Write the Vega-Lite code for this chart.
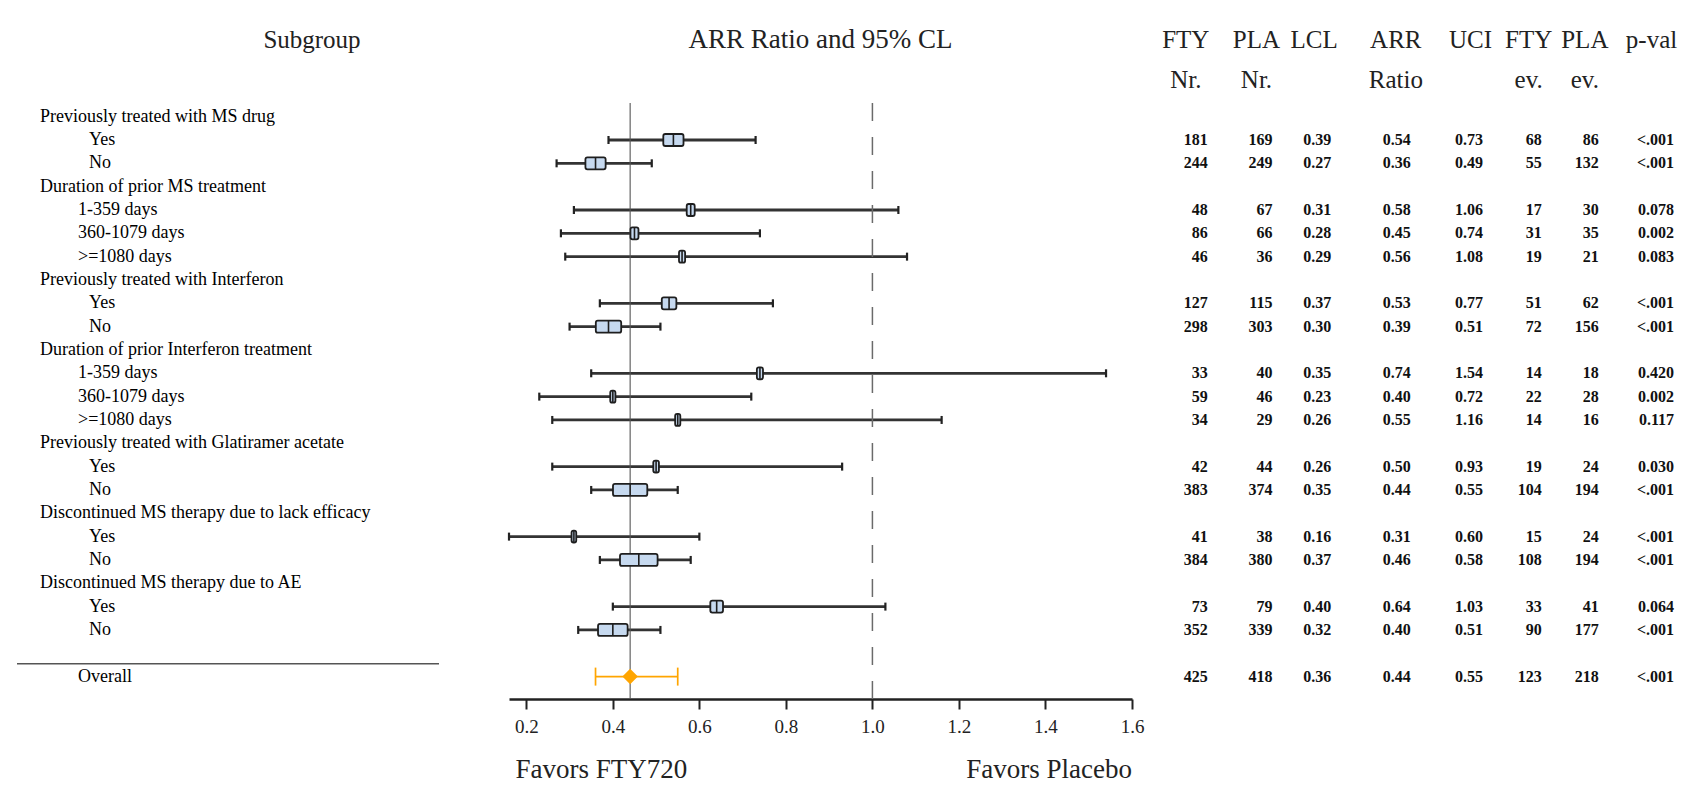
{
  "$schema": "https://vega.github.io/schema/vega-lite/v6.json",
  "padding": {"left": 16, "top": 0, "right": 0, "bottom": 0},
  "autosize": {"type": "pad"},
  "background": "white",
  "spacing": 70,
  "bounds": "flush",
  "resolve": {"scale": {"x": "independent"}, "axis": {"x": "independent"}},
  "config": {"view": {"stroke": null}, "font": "Liberation Serif", "text": {"font": "Liberation Serif"}},
  "datasets": {
    "rows": [
      {"row": 1, "label": "Previously treated with MS drug", "level": "group"},
      {"row": 2, "label": "Yes", "level": "item", "fty_n": 181, "pla_n": 169, "lcl": 0.39, "arr": 0.54, "ucl": 0.73, "fty_ev": 68, "pla_ev": 86, "pval": "<.001", "weight": 43},
      {"row": 3, "label": "No", "level": "item", "fty_n": 244, "pla_n": 249, "lcl": 0.27, "arr": 0.36, "ucl": 0.49, "fty_ev": 55, "pla_ev": 132, "pval": "<.001", "weight": 43},
      {"row": 4, "label": "Duration of prior MS treatment", "level": "group"},
      {"row": 5, "label": "1-359 days", "level": "item", "fty_n": 48, "pla_n": 67, "lcl": 0.31, "arr": 0.58, "ucl": 1.06, "fty_ev": 17, "pla_ev": 30, "pval": "0.078", "weight": 17},
      {"row": 6, "label": "360-1079 days", "level": "item", "fty_n": 86, "pla_n": 66, "lcl": 0.28, "arr": 0.45, "ucl": 0.74, "fty_ev": 31, "pla_ev": 35, "pval": "0.002", "weight": 17},
      {"row": 7, "label": ">=1080 days", "level": "item", "fty_n": 46, "pla_n": 36, "lcl": 0.29, "arr": 0.56, "ucl": 1.08, "fty_ev": 19, "pla_ev": 21, "pval": "0.083", "weight": 13},
      {"row": 8, "label": "Previously treated with Interferon", "level": "group"},
      {"row": 9, "label": "Yes", "level": "item", "fty_n": 127, "pla_n": 115, "lcl": 0.37, "arr": 0.53, "ucl": 0.77, "fty_ev": 51, "pla_ev": 62, "pval": "<.001", "weight": 31},
      {"row": 10, "label": "No", "level": "item", "fty_n": 298, "pla_n": 303, "lcl": 0.30, "arr": 0.39, "ucl": 0.51, "fty_ev": 72, "pla_ev": 156, "pval": "<.001", "weight": 54},
      {"row": 11, "label": "Duration of prior Interferon treatment", "level": "group"},
      {"row": 12, "label": "1-359 days", "level": "item", "fty_n": 33, "pla_n": 40, "lcl": 0.35, "arr": 0.74, "ucl": 1.54, "fty_ev": 14, "pla_ev": 18, "pval": "0.420", "weight": 13},
      {"row": 13, "label": "360-1079 days", "level": "item", "fty_n": 59, "pla_n": 46, "lcl": 0.23, "arr": 0.40, "ucl": 0.72, "fty_ev": 22, "pla_ev": 28, "pval": "0.002", "weight": 11},
      {"row": 14, "label": ">=1080 days", "level": "item", "fty_n": 34, "pla_n": 29, "lcl": 0.26, "arr": 0.55, "ucl": 1.16, "fty_ev": 14, "pla_ev": 16, "pval": "0.117", "weight": 11},
      {"row": 15, "label": "Previously treated with Glatiramer acetate", "level": "group"},
      {"row": 16, "label": "Yes", "level": "item", "fty_n": 42, "pla_n": 44, "lcl": 0.26, "arr": 0.50, "ucl": 0.93, "fty_ev": 19, "pla_ev": 24, "pval": "0.030", "weight": 12},
      {"row": 17, "label": "No", "level": "item", "fty_n": 383, "pla_n": 374, "lcl": 0.35, "arr": 0.44, "ucl": 0.55, "fty_ev": 104, "pla_ev": 194, "pval": "<.001", "weight": 73},
      {"row": 18, "label": "Discontinued MS therapy due to lack efficacy", "level": "group"},
      {"row": 19, "label": "Yes", "level": "item", "fty_n": 41, "pla_n": 38, "lcl": 0.16, "arr": 0.31, "ucl": 0.60, "fty_ev": 15, "pla_ev": 24, "pval": "<.001", "weight": 10},
      {"row": 20, "label": "No", "level": "item", "fty_n": 384, "pla_n": 380, "lcl": 0.37, "arr": 0.46, "ucl": 0.58, "fty_ev": 108, "pla_ev": 194, "pval": "<.001", "weight": 80},
      {"row": 21, "label": "Discontinued MS therapy due to AE", "level": "group"},
      {"row": 22, "label": "Yes", "level": "item", "fty_n": 73, "pla_n": 79, "lcl": 0.40, "arr": 0.64, "ucl": 1.03, "fty_ev": 33, "pla_ev": 41, "pval": "0.064", "weight": 27},
      {"row": 23, "label": "No", "level": "item", "fty_n": 352, "pla_n": 339, "lcl": 0.32, "arr": 0.40, "ucl": 0.51, "fty_ev": 90, "pla_ev": 177, "pval": "<.001", "weight": 63},
      {"row": 25, "label": "Overall", "level": "item", "fty_n": 425, "pla_n": 418, "lcl": 0.36, "arr": 0.44, "ucl": 0.55, "fty_ev": 123, "pla_ev": 218, "pval": "<.001"}
    ],
    "cols": [
      {"col": "fty_n", "head": ["FTY", "Nr."]},
      {"col": "pla_n", "head": ["PLA", "Nr."]},
      {"col": "lcl", "head": ["LCL", ""]},
      {"col": "arr", "head": ["ARR", "Ratio"]},
      {"col": "ucl", "head": ["UCI", ""]},
      {"col": "fty_ev", "head": ["FTY", "ev."]},
      {"col": "pla_ev", "head": ["PLA", "ev."]},
      {"col": "pval", "head": ["p-val", ""]}
    ]
  },
  "hconcat": [
    {
      "width": 422,
      "height": 699,
      "layer": [
        {
          "data": {"name": "rows"},
          "transform": [{"filter": "!test(/days|Overall/, datum.label)"}],
          "mark": {"type": "text", "align": "left", "baseline": "middle", "fontSize": 18, "color": "#000"},
          "encoding": {
            "x": {"field": "level", "type": "nominal", "scale": {"domain": ["group", "item"], "range": [23, 72], "padding": 0}, "axis": null},
            "y": {"field": "row", "type": "quantitative", "scale": {"domain": [-4, 25.96], "reverse": true, "nice": false, "zero": false}, "axis": null},
            "text": {"field": "label"}
          }
        },
        {
          "data": {"name": "rows"},
          "transform": [{"filter": "test(/days|Overall/, datum.label)"}],
          "mark": {"type": "text", "align": "left", "baseline": "middle", "fontSize": 18, "color": "#000", "dx": -11},
          "encoding": {
            "x": {"field": "level", "type": "nominal", "axis": null},
            "y": {"field": "row", "type": "quantitative"},
            "text": {"field": "label"}
          }
        },
        {
          "data": {"values": [{"header": "Subgroup"}]},
          "mark": {"type": "text", "fontSize": 25, "dx": 84, "baseline": "middle", "color": "#222"},
          "encoding": {
            "y": {"datum": -2.3, "type": "quantitative"},
            "text": {"field": "header"}
          }
        },
        {
          "data": {"values": [{"at": 24.45}]},
          "mark": {"type": "rule", "color": "#555", "strokeWidth": 1.5},
          "encoding": {"y": {"field": "at", "type": "quantitative"}}
        }
      ]
    },
    {
      "width": 623,
      "height": 699,
      "encoding": {
        "x": {"type": "quantitative", "scale": {"domain": [0.16, 1.6], "nice": false, "zero": false},
          "axis": {"values": [0.2, 0.4, 0.6, 0.8, 1.0, 1.2, 1.4, 1.6], "format": ".1f", "title": null, "grid": false, "domainColor": "#222", "domainWidth": 2.5, "tickColor": "#222", "tickWidth": 2, "tickSize": 10, "labelFont": "Liberation Serif", "labelFontSize": 19, "labelColor": "#222", "labelPadding": 8, "labelFlush": false, "labelOverlap": false}},
        "y": {"type": "quantitative", "scale": {"domain": [-4, 25.96], "reverse": true, "nice": false, "zero": false}, "axis": null}
      },
      "layer": [
        {
          "data": {"name": "rows"},
          "transform": [{"filter": "isValid(datum.weight)"}],
          "mark": {"type": "rule", "color": "#333", "strokeWidth": 2.8},
          "encoding": {
            "x": {"field": "lcl"},
            "x2": {"field": "ucl"},
            "y": {"field": "row"}
          }
        },
        {
          "data": {"values": [{"ref": 0.44, "top": 0.41, "bottom": 25.96}]},
          "mark": {"type": "rule", "color": "#555", "strokeWidth": 1.1},
          "encoding": {
            "x": {"field": "ref"},
            "y": {"field": "top"},
            "y2": {"field": "bottom"}
          }
        },
        {
          "data": {"values": [{"ref": 1.0, "top": 0.41, "bottom": 25.96}]},
          "mark": {"type": "rule", "color": "#6a6a6a", "strokeWidth": 1.5, "strokeDash": [18, 16]},
          "encoding": {
            "x": {"field": "ref"},
            "y": {"field": "top"},
            "y2": {"field": "bottom"}
          }
        },
        {
          "data": {"name": "rows"},
          "transform": [{"filter": "isValid(datum.weight)"}],
          "mark": {"type": "tick", "orient": "vertical", "color": "#222", "size": 8, "thickness": 2.2, "opacity": 1},
          "encoding": {"x": {"field": "lcl"}, "y": {"field": "row"}}
        },
        {
          "data": {"name": "rows"},
          "transform": [{"filter": "isValid(datum.weight)"}],
          "mark": {"type": "tick", "orient": "vertical", "color": "#222", "size": 8, "thickness": 2.2, "opacity": 1},
          "encoding": {"x": {"field": "ucl"}, "y": {"field": "row"}}
        },
        {
          "data": {"name": "rows"},
          "transform": [{"filter": "isValid(datum.weight)"}],
          "mark": {"type": "tick", "orient": "horizontal", "thickness": 12, "fill": "#c6d9ef", "stroke": "#1e1e1e", "strokeWidth": 1.8, "opacity": 1, "cornerRadius": 2},
          "encoding": {
            "x": {"field": "arr"},
            "y": {"field": "row"},
            "size": {"field": "weight", "type": "quantitative", "scale": {"domain": [0, 100], "range": [0, 47]}, "legend": null}
          }
        },
        {
          "data": {"name": "rows"},
          "transform": [{"filter": "isValid(datum.weight)"}],
          "mark": {"type": "tick", "orient": "vertical", "color": "#1e1e1e", "size": 12, "thickness": 1.6, "opacity": 1},
          "encoding": {"x": {"field": "arr"}, "y": {"field": "row"}}
        },
        {
          "data": {"name": "rows"},
          "transform": [{"filter": "datum.label === 'Overall'"}],
          "mark": {"type": "rule", "color": "#ffa500", "strokeWidth": 1.7},
          "encoding": {"x": {"field": "lcl"}, "x2": {"field": "ucl"}, "y": {"field": "row"}}
        },
        {
          "data": {"name": "rows"},
          "transform": [{"filter": "datum.label === 'Overall'"}],
          "mark": {"type": "tick", "orient": "vertical", "color": "#ffa500", "size": 18, "thickness": 1.7, "opacity": 1},
          "encoding": {"x": {"field": "lcl"}, "y": {"field": "row"}}
        },
        {
          "data": {"name": "rows"},
          "transform": [{"filter": "datum.label === 'Overall'"}],
          "mark": {"type": "tick", "orient": "vertical", "color": "#ffa500", "size": 18, "thickness": 1.7, "opacity": 1},
          "encoding": {"x": {"field": "ucl"}, "y": {"field": "row"}}
        },
        {
          "data": {"name": "rows"},
          "transform": [{"filter": "datum.label === 'Overall'"}],
          "mark": {"type": "point", "shape": "diamond", "filled": true, "color": "#ffa500", "size": 240, "opacity": 1},
          "encoding": {"x": {"field": "arr"}, "y": {"field": "row"}}
        },
        {
          "data": {"values": [{"header": "ARR Ratio and 95% CL", "at": 0.88, "row": -2.3}]},
          "mark": {"type": "text", "fontSize": 27, "baseline": "middle", "color": "#222"},
          "encoding": {"x": {"field": "at"}, "y": {"field": "row"}, "text": {"field": "header"}}
        },
        {
          "data": {"values": [{"note": "Favors FTY720", "at": 0.175, "row": 29.0}]},
          "mark": {"type": "text", "fontSize": 27, "align": "left", "baseline": "middle", "color": "#222"},
          "encoding": {"x": {"field": "at"}, "y": {"field": "row"}, "text": {"field": "note"}}
        },
        {
          "data": {"values": [{"note": "Favors Placebo", "at": 1.6, "row": 29.0}]},
          "mark": {"type": "text", "fontSize": 27, "align": "right", "baseline": "middle", "color": "#222"},
          "encoding": {"x": {"field": "at"}, "y": {"field": "row"}, "text": {"field": "note"}}
        }
      ]
    },
    {
      "width": 504,
      "height": 699,
      "layer": [
        {
          "data": {"name": "cols"}, "transform": [{"filter": "datum.col === 'fty_n'"}],
          "mark": {"type": "text", "align": "center", "baseline": "middle", "fontSize": 25, "lineHeight": 40, "dx": -21, "color": "#222"},
          "encoding": {
            "x": {"field": "col", "type": "nominal", "scale": {"domain": ["fty_n", "pla_n", "lcl", "arr", "ucl", "fty_ev", "pla_ev", "pval"], "range": [4.8, 471.5], "padding": 0}, "axis": null},
            "y": {"datum": -2.3, "type": "quantitative", "scale": {"domain": [-4, 25.96], "reverse": true, "nice": false, "zero": false}, "axis": null},
            "text": {"field": "head"}
          }
        },
        {
          "data": {"name": "cols"}, "transform": [{"filter": "datum.col === 'pla_n'"}],
          "mark": {"type": "text", "align": "center", "baseline": "middle", "fontSize": 25, "lineHeight": 40, "dx": -17, "color": "#222"},
          "encoding": {"x": {"field": "col", "type": "nominal", "axis": null}, "y": {"datum": -2.3, "type": "quantitative"}, "text": {"field": "head"}}
        },
        {
          "data": {"name": "cols"}, "transform": [{"filter": "datum.col === 'lcl'"}],
          "mark": {"type": "text", "align": "center", "baseline": "middle", "fontSize": 25, "lineHeight": 40, "dx": -26, "color": "#222"},
          "encoding": {"x": {"field": "col", "type": "nominal", "axis": null}, "y": {"datum": -2.3, "type": "quantitative"}, "text": {"field": "head"}}
        },
        {
          "data": {"name": "cols"}, "transform": [{"filter": "datum.col === 'arr'"}],
          "mark": {"type": "text", "align": "center", "baseline": "middle", "fontSize": 25, "lineHeight": 40, "dx": -11, "color": "#222"},
          "encoding": {"x": {"field": "col", "type": "nominal", "axis": null}, "y": {"datum": -2.3, "type": "quantitative"}, "text": {"field": "head"}}
        },
        {
          "data": {"name": "cols"}, "transform": [{"filter": "datum.col === 'ucl'"}],
          "mark": {"type": "text", "align": "center", "baseline": "middle", "fontSize": 25, "lineHeight": 40, "dx": -3, "color": "#222"},
          "encoding": {"x": {"field": "col", "type": "nominal", "axis": null}, "y": {"datum": -2.3, "type": "quantitative"}, "text": {"field": "head"}}
        },
        {
          "data": {"name": "cols"}, "transform": [{"filter": "datum.col === 'fty_ev'"}],
          "mark": {"type": "text", "align": "center", "baseline": "middle", "fontSize": 25, "lineHeight": 40, "dx": -11.5, "color": "#222"},
          "encoding": {"x": {"field": "col", "type": "nominal", "axis": null}, "y": {"datum": -2.3, "type": "quantitative"}, "text": {"field": "head"}}
        },
        {
          "data": {"name": "cols"}, "transform": [{"filter": "datum.col === 'pla_ev'"}],
          "mark": {"type": "text", "align": "center", "baseline": "middle", "fontSize": 25, "lineHeight": 40, "dx": -22, "color": "#222"},
          "encoding": {"x": {"field": "col", "type": "nominal", "axis": null}, "y": {"datum": -2.3, "type": "quantitative"}, "text": {"field": "head"}}
        },
        {
          "data": {"name": "cols"}, "transform": [{"filter": "datum.col === 'pval'"}],
          "mark": {"type": "text", "align": "center", "baseline": "middle", "fontSize": 25, "lineHeight": 40, "dx": -22, "color": "#222"},
          "encoding": {"x": {"field": "col", "type": "nominal", "axis": null}, "y": {"datum": -2.3, "type": "quantitative"}, "text": {"field": "head"}}
        },
        {
          "data": {"name": "rows"},
          "transform": [{"filter": "isValid(datum.arr)"}],
          "mark": {"type": "text", "align": "right", "baseline": "middle", "fontSize": 16, "fontWeight": "bold", "color": "#111", "dx": 1},
          "encoding": {"x": {"datum": "fty_n", "type": "nominal", "axis": null}, "y": {"field": "row", "type": "quantitative"}, "text": {"field": "fty_n", "type": "quantitative", "format": "d"}}
        },
        {
          "data": {"name": "rows"},
          "transform": [{"filter": "isValid(datum.arr)"}],
          "mark": {"type": "text", "align": "right", "baseline": "middle", "fontSize": 16, "fontWeight": "bold", "color": "#111", "dx": -1},
          "encoding": {"x": {"datum": "pla_n", "type": "nominal", "axis": null}, "y": {"field": "row", "type": "quantitative"}, "text": {"field": "pla_n", "type": "quantitative", "format": "d"}}
        },
        {
          "data": {"name": "rows"},
          "transform": [{"filter": "isValid(datum.arr)"}],
          "mark": {"type": "text", "align": "right", "baseline": "middle", "fontSize": 16, "fontWeight": "bold", "color": "#111", "dx": -9},
          "encoding": {"x": {"datum": "lcl", "type": "nominal", "axis": null}, "y": {"field": "row", "type": "quantitative"}, "text": {"field": "lcl", "type": "quantitative", "format": ".2f"}}
        },
        {
          "data": {"name": "rows"},
          "transform": [{"filter": "isValid(datum.arr)"}],
          "mark": {"type": "text", "align": "right", "baseline": "middle", "fontSize": 16, "fontWeight": "bold", "color": "#111", "dx": 4},
          "encoding": {"x": {"datum": "arr", "type": "nominal", "axis": null}, "y": {"field": "row", "type": "quantitative"}, "text": {"field": "arr", "type": "quantitative", "format": ".2f"}}
        },
        {
          "data": {"name": "rows"},
          "transform": [{"filter": "isValid(datum.arr)"}],
          "mark": {"type": "text", "align": "right", "baseline": "middle", "fontSize": 16, "fontWeight": "bold", "color": "#111", "dx": 9.5},
          "encoding": {"x": {"datum": "ucl", "type": "nominal", "axis": null}, "y": {"field": "row", "type": "quantitative"}, "text": {"field": "ucl", "type": "quantitative", "format": ".2f"}}
        },
        {
          "data": {"name": "rows"},
          "transform": [{"filter": "isValid(datum.arr)"}],
          "mark": {"type": "text", "align": "right", "baseline": "middle", "fontSize": 16, "fontWeight": "bold", "color": "#111", "dx": 1.5},
          "encoding": {"x": {"datum": "fty_ev", "type": "nominal", "axis": null}, "y": {"field": "row", "type": "quantitative"}, "text": {"field": "fty_ev", "type": "quantitative", "format": "d"}}
        },
        {
          "data": {"name": "rows"},
          "transform": [{"filter": "isValid(datum.arr)"}],
          "mark": {"type": "text", "align": "right", "baseline": "middle", "fontSize": 16, "fontWeight": "bold", "color": "#111", "dx": -8},
          "encoding": {"x": {"datum": "pla_ev", "type": "nominal", "axis": null}, "y": {"field": "row", "type": "quantitative"}, "text": {"field": "pla_ev", "type": "quantitative", "format": "d"}}
        },
        {
          "data": {"name": "rows"},
          "transform": [{"filter": "isValid(datum.arr)"}],
          "mark": {"type": "text", "align": "right", "baseline": "middle", "fontSize": 16, "fontWeight": "bold", "color": "#111", "dx": 0.5},
          "encoding": {"x": {"datum": "pval", "type": "nominal", "axis": null}, "y": {"field": "row", "type": "quantitative"}, "text": {"field": "pval", "type": "nominal"}}
        }
      ]
    }
  ]
}
